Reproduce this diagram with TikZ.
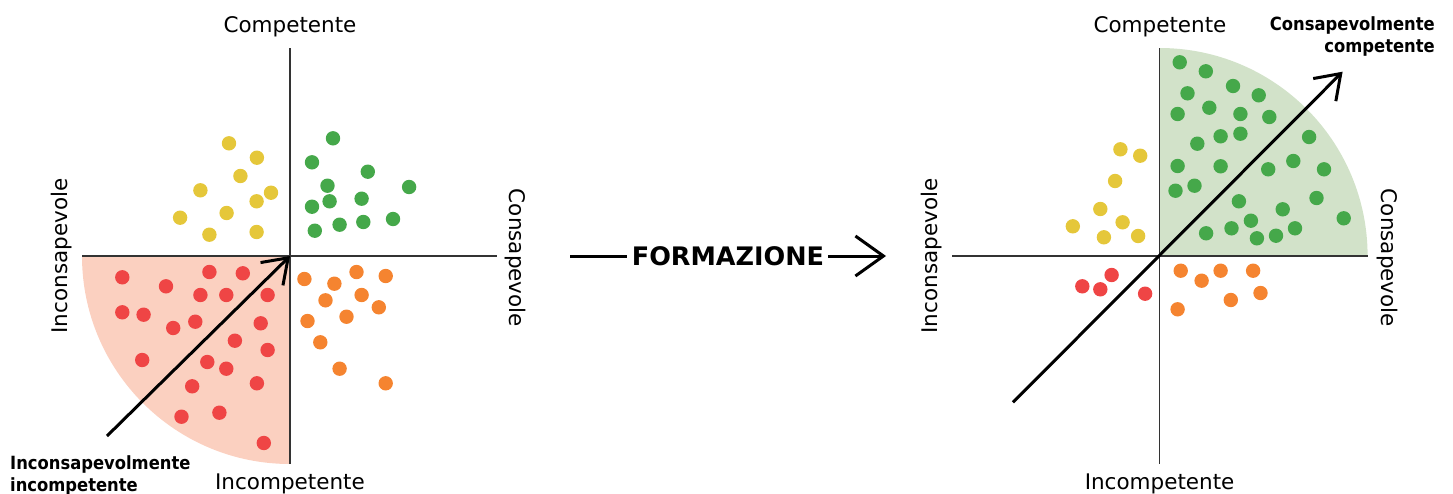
\documentclass[tikz,border=0pt]{standalone}
\usepackage{fontspec}
\setmainfont{DejaVu Sans}
\newfontfamily\condbold{DejaVu Sans Condensed}[BoldFont={* Bold}]
\usetikzlibrary{arrows.meta}
\definecolor{redfill}{HTML}{FBD0C0}
\definecolor{greenfill}{HTML}{D2E2C9}
\definecolor{dotY}{HTML}{E5C73A}
\definecolor{dotG}{HTML}{45A84A}
\definecolor{dotR}{HTML}{EF4545}
\definecolor{dotO}{HTML}{F58430}
\definecolor{axis}{HTML}{333333}
\tikzset{
  axisline/.style={draw=axis, line width=1.3pt},
  bigarrow/.style={draw=black, line width=3pt, -{Straight Barb[length=23pt,width=32pt]}},
  axlabel/.style={font=\fontsize{21.5}{24}\selectfont, inner sep=0pt, anchor=base},
  boldlabel/.style={font=\condbold\bfseries\fontsize{18.2}{22.4}\selectfont, inner sep=0pt},
}
\begin{document}
\begin{tikzpicture}[x=1pt,y=-1pt]
\useasboundingbox (0,0) rectangle (1453,493);
% ---------------- left diagram ----------------
\coordinate (C1) at (290,256);
\fill[redfill] (C1) -- ++(-208,0) arc[start angle=180,end angle=270,radius=208pt] -- cycle;
\coordinate (L1t) at (290,48);
\coordinate (L1b) at (290,464);
\coordinate (L1l) at (82,256);
\coordinate (L1r) at (497,256);
\draw[axisline] (L1t) -- (L1b);
\draw[axisline] (L1l) -- (L1r);
\foreach \p in {(229.0,143.3),(256.9,157.7),(240.4,176.0),(200.4,190.3),(271.0,192.7),(256.6,201.3),(226.6,213.0),(180.1,217.7),(209.4,234.7),(256.6,232.0)}
  \fill[dotY] \p circle[radius=7.2pt];
\foreach \p in {(333.0,138.3),(312.0,162.3),(367.8,171.7),(327.5,185.7),(409.1,187.0),(329.6,201.3),(361.6,198.7),(312.0,206.7),(393.0,219.0),(363.3,222.0),(339.6,224.7),(314.8,230.7)}
  \fill[dotG] \p circle[radius=7.2pt];
\foreach \p in {(122.3,277.3),(209.4,272.0),(242.8,273.3),(166.0,286.3),(200.4,295.0),(226.3,295.0),(267.6,295.0),(122.3,312.3),(143.6,314.7),(173.2,328.0),(195.3,321.7),(260.7,323.3),(234.9,340.7),(267.6,350.0),(142.2,360.0),(207.3,362.0),(226.3,368.7),(192.2,386.3),(256.9,383.3),(181.5,416.7),(219.4,412.7),(263.8,443.0)}
  \fill[dotR] \p circle[radius=7.2pt];
\foreach \p in {(304.4,279.0),(356.5,272.0),(385.7,276.0),(334.4,283.7),(325.5,300.3),(361.6,295.0),(378.8,307.3),(307.5,321.0),(346.5,316.7),(320.3,342.3),(339.6,368.7),(385.7,383.3)}
  \fill[dotO] \p circle[radius=7.2pt];
\coordinate (A1s) at (107,436);
\draw[bigarrow] (A1s) -- (C1);
\node[axlabel] (comp1) at (290,32.3) {Competente};
\node[axlabel] (incomp1) at (290,489) {Incompetente};
\node[axlabel, rotate=90] (incons1) at (67.2,256) {Inconsapevole};
\node[axlabel, rotate=-90] (cons1) at (509.7,258) {Consapevole};
\node[boldlabel, anchor=base west, align=left] (lab1) at (10,491.7) {Inconsapevolmente\\incompetente};
% ---------------- middle arrow ----------------
\node[font=\bfseries\fontsize{25.5}{28}\selectfont, inner sep=0pt] (form) at (728,256) {FORMAZIONE};
\coordinate (F0) at (570,256);
\coordinate (F1) at (886,256);
\draw[line width=3pt] (F0) -- ([xshift=-5pt]form.west);
\draw[line width=3pt, -{Straight Barb[length=28pt,width=40pt]}] ([xshift=4pt]form.east) -- (F1);
% ---------------- right diagram ----------------
\coordinate (C2) at (1159.6,256);
\fill[greenfill] (C2) -- ++(208,0) arc[start angle=0,end angle=90,radius=208pt] -- cycle;
\coordinate (L2t) at (1159.6,48);
\coordinate (L2b) at (1159.6,464);
\coordinate (L2l) at (952,256);
\coordinate (L2r) at (1367.6,256);
\draw[axisline] (L2t) -- (L2b);
\draw[axisline] (L2l) -- (L2r);
\foreach \p in {(1179.7,62.3),(1205.8,71.3),(1187.5,93.3),(1233.0,86.0),(1258.7,95.3),(1177.6,114.0),(1209.3,107.7),(1240.4,114.0),(1269.3,117.0),(1197.3,143.7),(1220.6,136.3),(1240.4,133.7),(1309.1,137.0),(1177.6,166.0),(1220.6,166.3),(1268.2,169.3),(1293.3,161.0),(1324.0,169.3),(1175.5,190.7),(1194.5,185.7),(1238.9,201.3),(1316.5,198.0),(1282.7,209.3),(1343.7,218.3),(1250.9,220.7),(1206.1,233.3),(1231.5,228.3),(1256.9,238.3),(1276.0,235.7),(1295.0,228.3)}
  \fill[dotG] \p circle[radius=7.2pt];
\foreach \p in {(1120.4,149.3),(1140.2,155.7),(1115.1,181.0),(1100.3,209.0),(1122.6,222.3),(1072.8,226.3),(1103.9,237.3),(1138.1,236.0)}
  \fill[dotY] \p circle[radius=7.2pt];
\foreach \p in {(1111.6,275.0),(1082.3,286.3),(1100.3,289.3),(1145.1,293.7)}
  \fill[dotR] \p circle[radius=7.2pt];
\foreach \p in {(1180.7,270.7),(1220.6,270.7),(1253.1,270.7),(1201.6,280.7),(1260.5,293.0),(1230.8,300.0),(1177.6,309.3)}
  \fill[dotO] \p circle[radius=7.2pt];
\coordinate (A2s) at (1013,402.3);
\coordinate (A2e) at (1342.6,71.7);
\draw[bigarrow] (A2s) -- (A2e);
\node[axlabel] (comp2) at (1160,32.3) {Competente};
\node[axlabel] (incomp2) at (1159.6,489) {Incompetente};
\node[axlabel, rotate=90] (incons2) at (937,256) {Inconsapevole};
\node[axlabel, rotate=-90] (cons2) at (1381.4,258) {Consapevole};
\node[boldlabel, anchor=base east, align=right] (lab2) at (1435,52.7) {Consapevolmente\\competente};
\end{tikzpicture}
\end{document}
